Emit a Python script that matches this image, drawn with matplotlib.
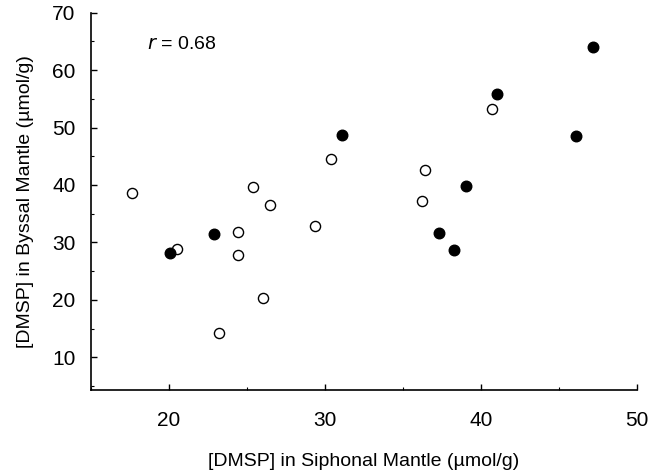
import matplotlib
matplotlib.use('Agg')
import matplotlib.pyplot as plt
from matplotlib.ticker import MultipleLocator

plt.rcParams['font.family'] = ['Liberation Sans', 'DejaVu Sans']

# open circles
open_x = [17.6, 20.5, 23.2, 24.4, 24.4, 25.4, 26.0, 26.5, 29.35, 30.4, 36.2, 36.4, 40.7]
open_y = [38.6, 28.8, 14.3, 31.8, 27.8, 39.6, 20.4, 36.6, 32.9, 44.6, 37.2, 42.6, 53.2]

# filled circles
filled_x = [20.06, 22.9, 31.1, 37.3, 38.3, 39.05, 41.05, 46.1, 47.2]
filled_y = [28.2, 31.4, 48.75, 31.6, 28.7, 39.8, 55.9, 48.5, 64.05]

x_ticks = [20, 30, 40, 50]
y_ticks = [10, 20, 30, 40, 50, 60, 70]

fig = plt.figure(figsize=(6.64, 4.71), dpi=100)
ax = fig.add_axes([0.137, 0.172, 0.822, 0.801])

ax.plot(open_x, open_y, 'o', ms=7.3, mfc='white', mec='black', mew=1.0, ls='none')
ax.plot(filled_x, filled_y, 'o', ms=7.6, mfc='black', mec='black', ls='none')

ax.set_xlim(15, 50)
ax.set_ylim(4.3, 70)
ax.set_xticks(x_ticks)
ax.set_yticks(y_ticks)
ax.xaxis.set_minor_locator(MultipleLocator(5))
ax.yaxis.set_minor_locator(MultipleLocator(5))

ax.spines['top'].set_visible(False)
ax.spines['right'].set_visible(False)
ax.spines['left'].set_linewidth(1.2)
ax.spines['bottom'].set_linewidth(1.2)

ax.tick_params(axis='both', which='both', direction='in')
ax.tick_params(axis='both', which='major', length=4.5, width=1, labelsize=15)
ax.tick_params(axis='both', which='minor', length=2.5, width=0.8)
ax.tick_params(axis='x', which='major', pad=15)
ax.tick_params(axis='y', which='major', pad=11)

ax.set_xlabel('[DMSP] in Siphonal Mantle (\u00b5mol/g)', fontsize=14, labelpad=17)
ax.set_ylabel('[DMSP] in Byssal Mantle (\u00b5mol/g)', fontsize=14, labelpad=13)

ax.text(18.6, 64.4, r'$r$ = 0.68', fontsize=14, va='center', ha='left')

fig.savefig('out.png', dpi=100)
